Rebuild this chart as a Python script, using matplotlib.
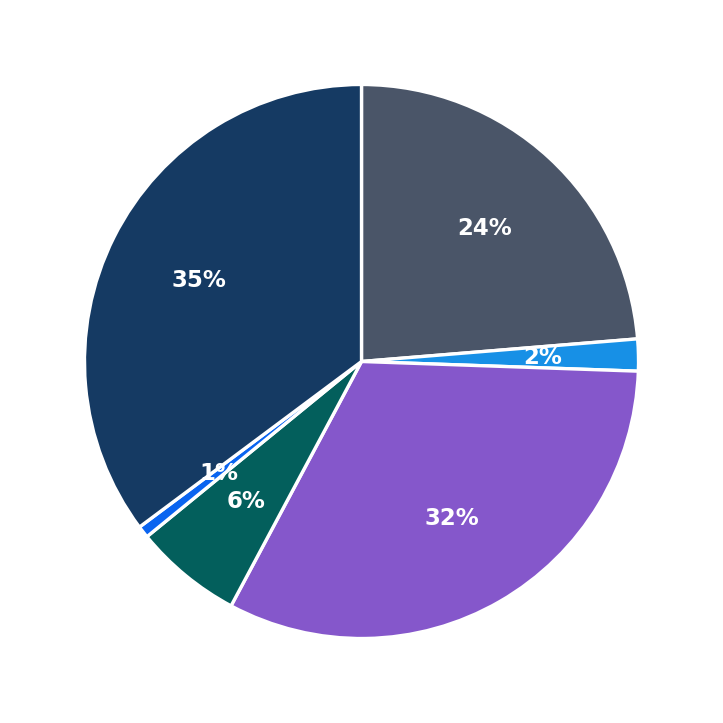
import matplotlib
matplotlib.use("Agg")
import matplotlib.pyplot as plt

labels = ["A", "B", "C", "D", "E", "F"]
values = [23.7, 1.86, 32.25, 6.3, 0.7, 35.2]
colors = ["#4a5568", "#1790e6", "#8557cb", "#035f5c", "#0a64f0", "#153a63"]

fig = plt.figure(figsize=(7.23, 7.23), dpi=100)
ax = fig.add_axes([0, 0, 1, 1])
wedges, texts, autotexts = ax.pie(
    values, colors=colors, startangle=90, counterclock=False,
    autopct="%1.0f%%", pctdistance=0.655,
    wedgeprops=dict(edgecolor="white", linewidth=2.4),
    textprops=dict(color="white", fontsize=16.5, fontweight="bold"),
)
lim = 1.305
ax.set_xlim(-lim, lim)
ax.set_ylim(-lim, lim)
ax.set_aspect("equal")
ax.axis("off")
fig.savefig("out.png", dpi=100)
